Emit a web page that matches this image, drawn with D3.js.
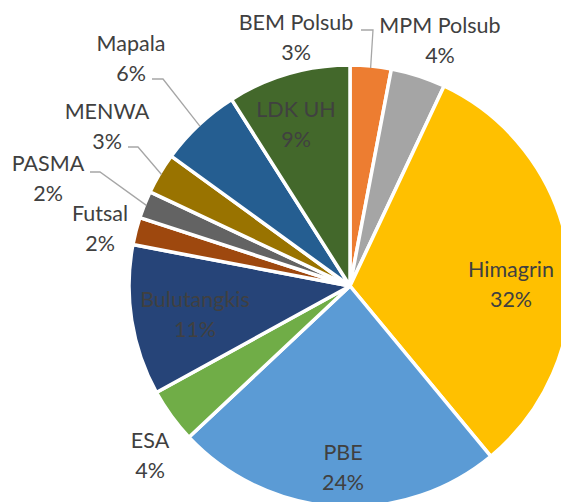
<!doctype html>
<html>
<head>
<meta charset="utf-8" />
<script src="https://d3js.org/d3.v7.min.js"></script>
<style>
  body { margin: 0; padding: 0; background: #fff; }
  svg text { font-family: Lato, sans-serif; font-size: 21.5px; fill: #404040; }
</style>
</head>
<body>
<script>
  // Datos del gráfico (porcentajes)
  const categories = ["BEM Polsub", "MPM Polsub", "Himagrin", "PBE", "ESA", "Bulutangkis",
                      "Futsal", "PASMA", "MENWA", "Mapala", "LDK UH"];
  const values = [3, 4, 32, 24, 4, 11, 2, 2, 3, 6, 9];
  const colors = ["#ED7D31", "#A5A5A5", "#FFC000", "#5B9BD5", "#70AD47", "#264478",
                  "#9E480E", "#636363", "#997300", "#255E91", "#43682B"];

  const width = 561, height = 502;
  const cx = 350, cy = 286, R = 221;

  // Posición de las etiquetas (relativa al centro) y codo de la línea guía
  const labelLayout = {
    "BEM Polsub":  { x: -54, y: -249, elbow: [23, -256], start: [11, -256] },
    "MPM Polsub":  { x: 90,  y: -246 },
    "Himagrin":    { x: 161, y: -2 },
    "PBE":         { x: -7,  y: 181 },
    "ESA":         { x: -200, y: 169 },
    "Bulutangkis": { x: -155, y: 28 },
    "Futsal":      { x: -250, y: -58 },
    "PASMA":       { x: -302, y: -108, elbow: [-250, -114], start: [-260, -114] },
    "MENWA":       { x: -243, y: -160, elbow: [-212, -139], start: [-222, -139] },
    "Mapala":      { x: -219, y: -228, elbow: [-187, -207], start: [-198, -207] }
  };
  labelLayout["LDK UH"] = { x: -54, y: -162 };

  const data = categories.map((c, i) => ({ name: c, value: values[i], color: colors[i] }));

  const svg = d3.select("body").append("svg")
    .attr("width", width)
    .attr("height", height);

  const g = svg.append("g").attr("transform", `translate(${cx},${cy})`);

  const pie = d3.pie().sort(null).value(d => d.value);
  const arc = d3.arc().innerRadius(0).outerRadius(R);
  const arcs = pie(data);

  g.selectAll("path.slice")
    .data(arcs)
    .enter()
    .append("path")
    .attr("class", "slice")
    .attr("d", arc)
    .attr("fill", d => d.data.color)
    .attr("stroke", "#fff")
    .attr("stroke-width", 3.5)
    .attr("stroke-linejoin", "round");

  // Líneas guía
  arcs.forEach(d => {
    const l = labelLayout[d.data.name];
    if (!l.elbow) return;
    const a = (d.startAngle + d.endAngle) / 2;
    const end = [Math.sin(a) * (R - 2), -Math.cos(a) * (R - 2)];
    g.append("polyline")
      .attr("points", [l.start, l.elbow, end].map(p => p.join(",")).join(" "))
      .attr("fill", "none")
      .attr("stroke", "#A6A6A6")
      .attr("stroke-width", 1.3);
  });

  // Etiquetas: nombre y porcentaje
  const total = d3.sum(values);
  arcs.forEach(d => {
    const l = labelLayout[d.data.name];
    const t = g.append("text")
      .attr("text-anchor", "middle")
      .attr("x", l.x)
      .attr("y", l.y);
    t.append("tspan")
      .attr("x", l.x)
      .attr("dy", -7)
      .text(d.data.name);
    t.append("tspan")
      .attr("x", l.x)
      .attr("dy", 30)
      .text(Math.round(d.data.value / total * 100) + "%");
  });
</script>
</body>
</html>
